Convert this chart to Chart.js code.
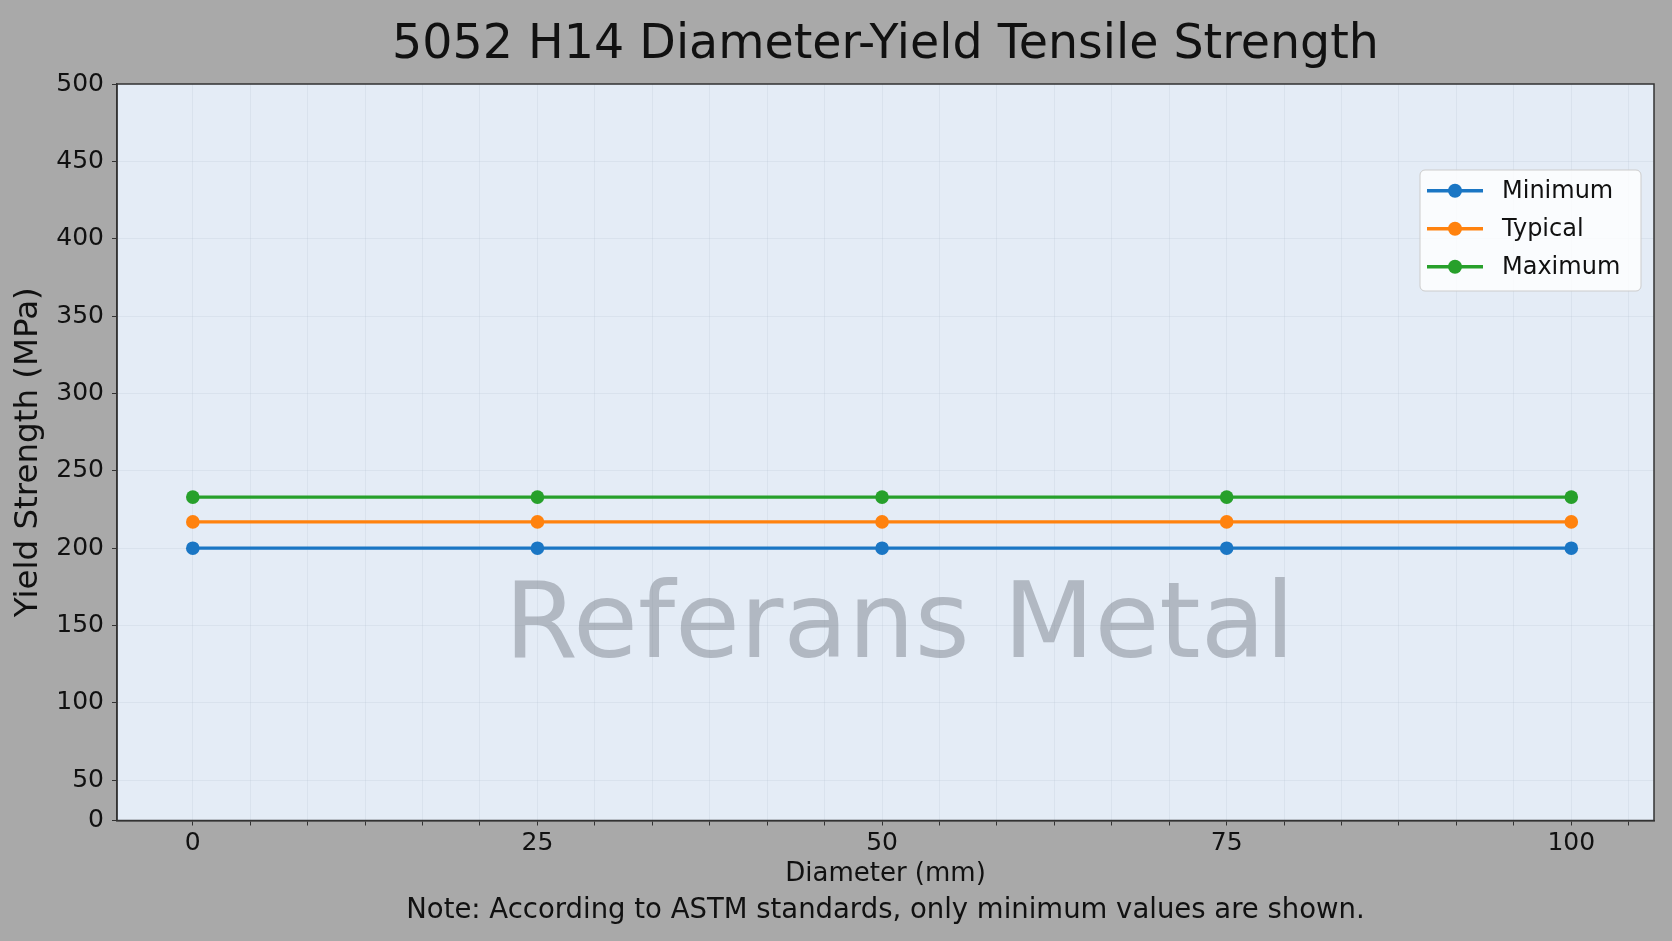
<!DOCTYPE html>
<html>
<head>
<meta charset="utf-8">
<title>5052 H14 Diameter-Yield Tensile Strength</title>
<script src="https://cdn.jsdelivr.net/npm/chart.js@4.4.1/dist/chart.umd.min.js"></script>
<style>
    html, body { margin: 0; padding: 0; background: #a9a9a9; }
    #wrap { width: 1672px; height: 941px; }
</style>
</head>
<body>
<div id="wrap"><canvas id="strengthChart"></canvas></div>
<script>
// Data
const diameters = [0, 25, 50, 75, 100];
const minimumValues = [200, 200, 200, 200, 200];
const typicalValues = [217, 217, 217, 217, 217];
const maximumValues = [233, 233, 233, 233, 233];
const seriesNames = ['Minimum', 'Typical', 'Maximum'];
const xMajorTicks = [0, 25, 50, 75, 100];
const yTickValues = [50, 100, 150, 200, 250, 300, 350, 400, 450, 500];
const yAxisMin = 24;   // the bottom of the axis carries the "0" label in the source
const yAxisMax = 500;

const FONT = '"DejaVu Sans", "Noto Sans", sans-serif';
const COLORS = ['#1a76c4', '#ff820e', '#27a02b'];
const TEXT = '#111111';
const GRID = 'rgba(175, 188, 205, 0.2)';

function toPoints(values) {
    return diameters.map((x, i) => ({ x: x, y: values[i] }));
}

// background of figure and plot area, plus the box around the axes
const framePlugin = {
    id: 'frame',
    beforeDraw(chart) {
        const { ctx, chartArea: a } = chart;
        ctx.save();
        ctx.fillStyle = '#a9a9a9';
        ctx.fillRect(0, 0, chart.width, chart.height);
        ctx.fillStyle = '#e4ecf6';
        ctx.fillRect(a.left, a.top, a.right - a.left, a.bottom - a.top);
        ctx.restore();
    },
    afterDraw(chart) {
        const { ctx, chartArea: a } = chart;
        ctx.save();
        ctx.strokeStyle = '#333333';
        ctx.lineWidth = 1.5;
        ctx.strokeRect(a.left, a.top, a.right - a.left, a.bottom - a.top);
        ctx.restore();
    }
};

const watermarkPlugin = {
    id: 'watermark',
    beforeDatasetsDraw(chart) {
        const ctx = chart.ctx;
        ctx.save();
        ctx.font = '105.5px ' + FONT;
        ctx.fillStyle = 'rgba(125, 131, 142, 0.5)';
        ctx.textAlign = 'center';
        ctx.textBaseline = 'alphabetic';
        ctx.fillText('Referans Metal', chart.width * 0.538, chart.height * 0.698);
        ctx.restore();
    }
};

// legend box in the upper right corner of the axes, line + marker per series
const boxLegendPlugin = {
    id: 'boxLegend',
    afterDraw(chart) {
        const { ctx, chartArea: a } = chart;
        const w = 221, h = 121;
        const x = a.right - 234, y = a.top + 86;
        ctx.save();
        ctx.beginPath();
        ctx.roundRect(x, y, w, h, 5);
        ctx.fillStyle = 'rgba(255, 255, 255, 0.82)';
        ctx.fill();
        ctx.strokeStyle = '#cccccc';
        ctx.lineWidth = 1;
        ctx.stroke();

        ctx.font = '24px ' + FONT;
        ctx.textBaseline = 'middle';
        ctx.textAlign = 'left';
        chart.data.datasets.forEach((ds, i) => {
            const cy = y + 20.7 + i * 38;
            ctx.strokeStyle = ds.borderColor;
            ctx.lineWidth = 3.5;
            ctx.beginPath();
            ctx.moveTo(x + 7, cy);
            ctx.lineTo(x + 63, cy);
            ctx.stroke();
            ctx.fillStyle = ds.borderColor;
            ctx.beginPath();
            ctx.arc(x + 35, cy, 7, 0, Math.PI * 2);
            ctx.fill();
            ctx.fillStyle = TEXT;
            ctx.fillText(ds.label, x + 82, cy + 1);
        });
        ctx.restore();
    }
};

const datasets = [minimumValues, typicalValues, maximumValues].map((values, i) => ({
    label: seriesNames[i],
    data: toPoints(values),
    borderColor: COLORS[i],
    backgroundColor: COLORS[i],
    borderWidth: 3.3,
    pointRadius: 6.8,
    pointHoverRadius: 6.8,
    pointBorderWidth: 0,
    tension: 0
}));

const ctx = document.getElementById('strengthChart').getContext('2d');
new Chart(ctx, {
    type: 'line',
    data: { datasets: datasets },
    options: {
        responsive: true,
        maintainAspectRatio: false,
        animation: false,
        layout: { padding: { left: 0, right: 18, top: 0, bottom: 0 } },
        plugins: {
            legend: { display: false },
            tooltip: { enabled: false },
            title: {
                display: true,
                fullSize: false,
                text: '5052 H14 Diameter-Yield Tensile Strength',
                color: TEXT,
                font: { family: FONT, size: 47.5, weight: 'normal', lineHeight: 1.2 },
                padding: { top: 17, bottom: 10 }
            },
            subtitle: {
                display: true,
                fullSize: false,
                position: 'bottom',
                text: 'Note: According to ASTM standards, only minimum values are shown.',
                color: TEXT,
                font: { family: FONT, size: 27.5, weight: 'normal', lineHeight: 1.2 },
                padding: { top: 0, bottom: 14 }
            }
        },
        scales: {
            x: {
                type: 'linear',
                min: -5.5,
                max: 106,
                afterBuildTicks(scale) {
                    // minor ticks every 25/6 between the labelled ones
                    const ticks = [];
                    for (let k = 0; k * 25 / 6 <= scale.max; k++) {
                        ticks.push({ value: k * 25 / 6 });
                    }
                    scale.ticks = ticks;
                },
                afterFit(scale) { scale.height = 73.5; },
                ticks: {
                    autoSkip: false,
                    maxRotation: 0,
                    padding: 3,
                    color: TEXT,
                    font: { family: FONT, size: 25 },
                    callback(value) {
                        const hit = xMajorTicks.find(t => Math.abs(t - value) < 1e-6);
                        return hit === undefined ? '' : String(hit);
                    }
                },
                grid: { color: GRID, tickColor: '#333333', tickLength: 5, lineWidth: 1 },
                border: { color: '#333333', width: 1.5 },
                title: {
                    display: true,
                    text: 'Diameter (mm)',
                    color: TEXT,
                    font: { family: FONT, size: 26, lineHeight: 1.2 },
                    padding: { top: 0, bottom: 4 }
                }
            },
            y: {
                type: 'linear',
                min: yAxisMin,
                max: yAxisMax,
                afterBuildTicks(scale) {
                    scale.ticks = [yAxisMin].concat(yTickValues).map(v => ({ value: v }));
                },
                afterFit(scale) { scale.width = 117; },
                ticks: {
                    padding: 8,
                    color: TEXT,
                    font: { family: FONT, size: 25 },
                    callback(value) { return value === yAxisMin ? '0' : String(value); }
                },
                grid: { color: GRID, tickColor: '#333333', tickLength: 5, lineWidth: 1 },
                border: { color: '#333333', width: 1.5 },
                title: {
                    display: true,
                    text: 'Yield Strength (MPa)',
                    color: TEXT,
                    font: { family: FONT, size: 32.5, lineHeight: 1.2 },
                    padding: { top: 9, bottom: 0 }
                }
            }
        }
    },
    plugins: [framePlugin, watermarkPlugin, boxLegendPlugin]
});
</script>
</body>
</html>
